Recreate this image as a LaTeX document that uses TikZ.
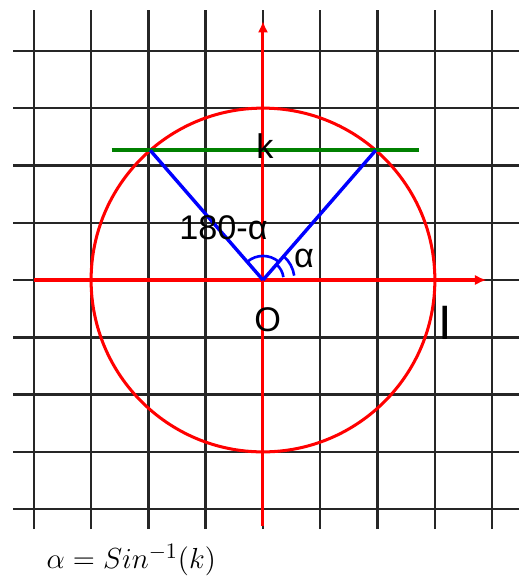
\documentclass[tikz,border=0pt]{standalone}
\usepackage{fontspec}
\setmainfont{Liberation Sans}
\usetikzlibrary{arrows.meta}

\begin{document}
\begin{tikzpicture}[
    every node/.style={font=\fontsize{17}{20}\selectfont, inner sep=0pt},
    gridline/.style={line width=1.2pt, black!85},
    axis/.style={line width=1.5pt, red, -{Latex[length=2mm,width=1.8mm]}},
    circ/.style={line width=1.5pt, red},
    ray/.style={line width=1.7pt, blue},
    chord/.style={line width=1.8pt, green!50!black},
    anglearc/.style={line width=1.3pt, blue},
  ]
    \useasboundingbox (-4.59,-5.166) rectangle (4.468,4.887);
    \foreach \x in {-4,...,4} \draw[gridline] (\x,-4.35) -- (\x,4.72);
    \foreach \y in {-4,...,4} \draw[gridline] (-4.36,\y) -- (4.468,\y);

    \coordinate (O)  at (0,0);
    \coordinate (xs) at (-4,0);
    \coordinate (xe) at (3.9,0);
    \coordinate (ys) at (0,-4.3);
    \coordinate (ye) at (0,4.52);
    \coordinate (P)  at (49:3);
    \coordinate (Q)  at (131:3);
    \coordinate (gl) at (-2.64,2.264);
    \coordinate (gr) at (2.72,2.264);

    \draw[circ] (O) circle[radius=3];
    \draw[axis] (xs) -- (xe);
    \draw[axis] (ys) -- (ye);
    \draw[chord] (gl) -- (gr);
    \draw[ray] (O) -- (P);
    \draw[ray] (O) -- (Q);

    \draw[anglearc] (49:0.42) arc[start angle=49, end angle=131, radius=0.42];
    \draw[anglearc] (8:0.36) arc[start angle=8, end angle=49, radius=0.36];
    \draw[anglearc] (8:0.55) arc[start angle=8, end angle=49, radius=0.55];

    \node (k)   at (0.035,2.34)  {k};
    \node (sup) at (-0.69,0.92)  {180-α};
    \node (al)  at (0.715,0.38)  {α};
    \node (o)   at (0.08,-0.69)  {O};
    \node[anchor=base, font=\fontsize{24}{28}\selectfont] (l) at (3.185,-1.047) {I};
    \node[font=\fontsize{15}{18}\selectfont] (f) at (-2.30,-4.89) {$\alpha=Sin^{-1}(k)$};
  \end{tikzpicture}
\end{document}
